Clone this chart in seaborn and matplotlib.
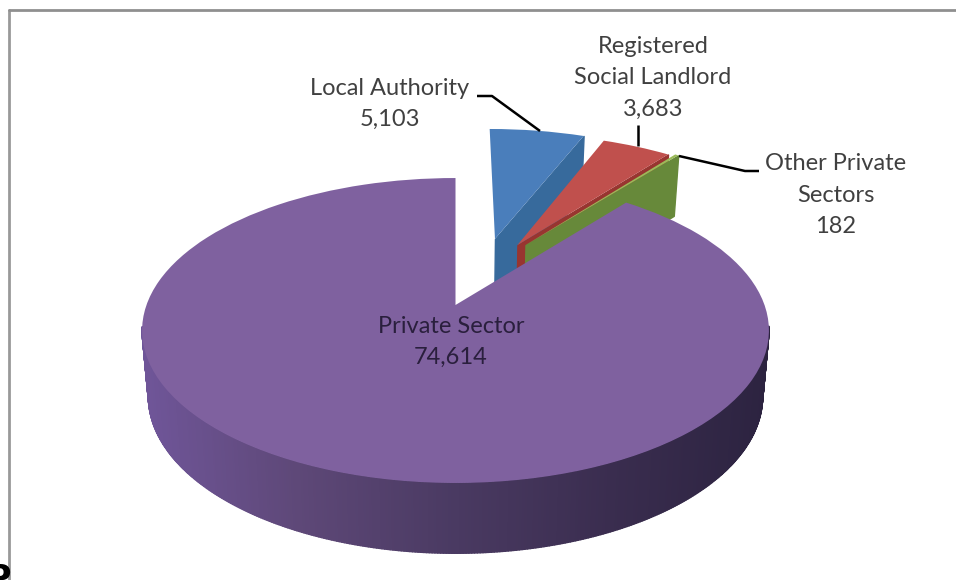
import numpy as np
import matplotlib
matplotlib.use("Agg")
import matplotlib.pyplot as plt
import seaborn as sns
from matplotlib.collections import PolyCollection
from matplotlib.colors import LinearSegmentedColormap
from matplotlib.transforms import Transform

# ---- data ----
categories = ["Local Authority", "Registered\nSocial Landlord", "Other Private\nSectors", "Private Sector"]
values = [5103, 3683, 182, 74614]

# ---- styles ----
face_colors = ["#4A7EBB", "#C0504D", "#9BBB59", "#7F619F"]
wall_colors = ["#376A9C", "#983530", "#67893A", None]
wall_gradient = ["#70569A", "#5E4878", "#4A3A62", "#3A2D4F", "#2C2340"]
slice_offsets = [(0.138, 0.482), (0.215, 0.434), (0.243, 0.434), (0.0, 0.0)]
label_xy = [(390, 104), (653, 78), (836, 195), (451, 342)]
label_colors = ["#404040", "#404040", "#404040", "#2A1F3D"]

CX, CY, B, A, K = 455.5, 305.0, 309.0, 148.2, 0.1672
DEPTH, SX, SY = 65.0, 0.98, 1.03


class DiscTransform(Transform):
    """Perspective view of a unit pie disc, in figure pixel data coordinates."""
    input_dims = output_dims = 2
    is_separable = False
    has_inverted = False

    def __init__(self, offset=(0.0, 0.0), bottom=False):
        super().__init__()
        self.offset = offset
        self.bottom = bottom

    def transform_non_affine(self, values):
        pts = np.asarray(values, float)
        u = pts[:, 0] + self.offset[0]
        v = pts[:, 1] + self.offset[1]
        w = 1 + K * v
        x, y = B * u / w, -A * v / w
        if self.bottom:
            x, y = x * SX, y * SY + DEPTH
        return np.column_stack([x + CX, y + CY])


sns.set_theme(style="white")
plt.rcParams["font.family"] = ["Lato", "DejaVu Sans"]

fig = plt.figure(figsize=(9.56, 5.8), dpi=100, facecolor="white")
ax = fig.add_axes([0, 0, 1, 1])

wedges, _ = ax.pie(values, startangle=90, counterclock=False, colors=face_colors)
ax.set_aspect("auto")
ax.set_xlim(0, 956)
ax.set_ylim(580, 0)
ax.axis("off")

cmap = LinearSegmentedColormap.from_list("wall", wall_gradient)
for i, (w, off) in enumerate(zip(wedges, slice_offsets)):
    angles = np.radians(np.linspace(w.theta1, w.theta2, 721))
    ring = np.column_stack([np.cos(angles), np.sin(angles)])
    outline = np.vstack([[0, 0], ring, [0, 0]])
    top = DiscTransform(off).transform(outline)
    bot = DiscTransform(off, bottom=True).transform(outline)
    quads = np.stack([top[:-1], top[1:], bot[1:], bot[:-1]], axis=1)
    if wall_colors[i] is None:
        # only the front of the rim is visible: keep it from fringing the back edge
        mids = (ring[:-1] + ring[1:]) / 2
        quads = quads[1:-1][mids[:, 1] < -0.14]
        cols = cmap(np.clip((quads[:, :, 0].mean(axis=1) - 140) / 630, 0, 1))
    else:
        # an exploded slice shows only its cut face towards the front
        quads = quads[[0]]
        cols = [wall_colors[i]]
    ax.add_collection(PolyCollection(quads, facecolors=cols, edgecolors=cols,
                                     linewidths=1.0, zorder=2 + 2 * i,
                                     transform=ax.transData))
    w.set_transform(DiscTransform(off) + ax.transData)
    w.set_linewidth(0)
    w.set_zorder(3 + 2 * i)
    w.set_clip_on(False)

# leader lines
line_kw = dict(color="black", lw=1.8, zorder=12, solid_capstyle="butt", solid_joinstyle="round")
ax.plot([477, 492, 540], [96, 96, 131], **line_kw)
ax.plot([638, 638], [125, 146], **line_kw)
ax.plot([679, 745, 759], [156, 171, 171], **line_kw)

# labels
for name, val, xy, col in zip(categories, values, label_xy, label_colors):
    ax.text(xy[0], xy[1], f"{name}\n{val:,}", ha="center", va="center", fontsize=17,
            color=col, linespacing=1.6, zorder=13)

# screenshot frame and the clipped glyph at the lower-left
ax.plot([9.5, 9.5], [10, 580], color="#999999", lw=2, zorder=1)
ax.plot([9.5, 956], [10, 10], color="#8F8F8F", lw=2, zorder=1)
ax.text(-13, 589, "P", fontsize=24, fontweight="bold", color="black", family="DejaVu Sans",
        ha="left", va="baseline", zorder=14)

fig.savefig("out.png", dpi=100, facecolor="white")
